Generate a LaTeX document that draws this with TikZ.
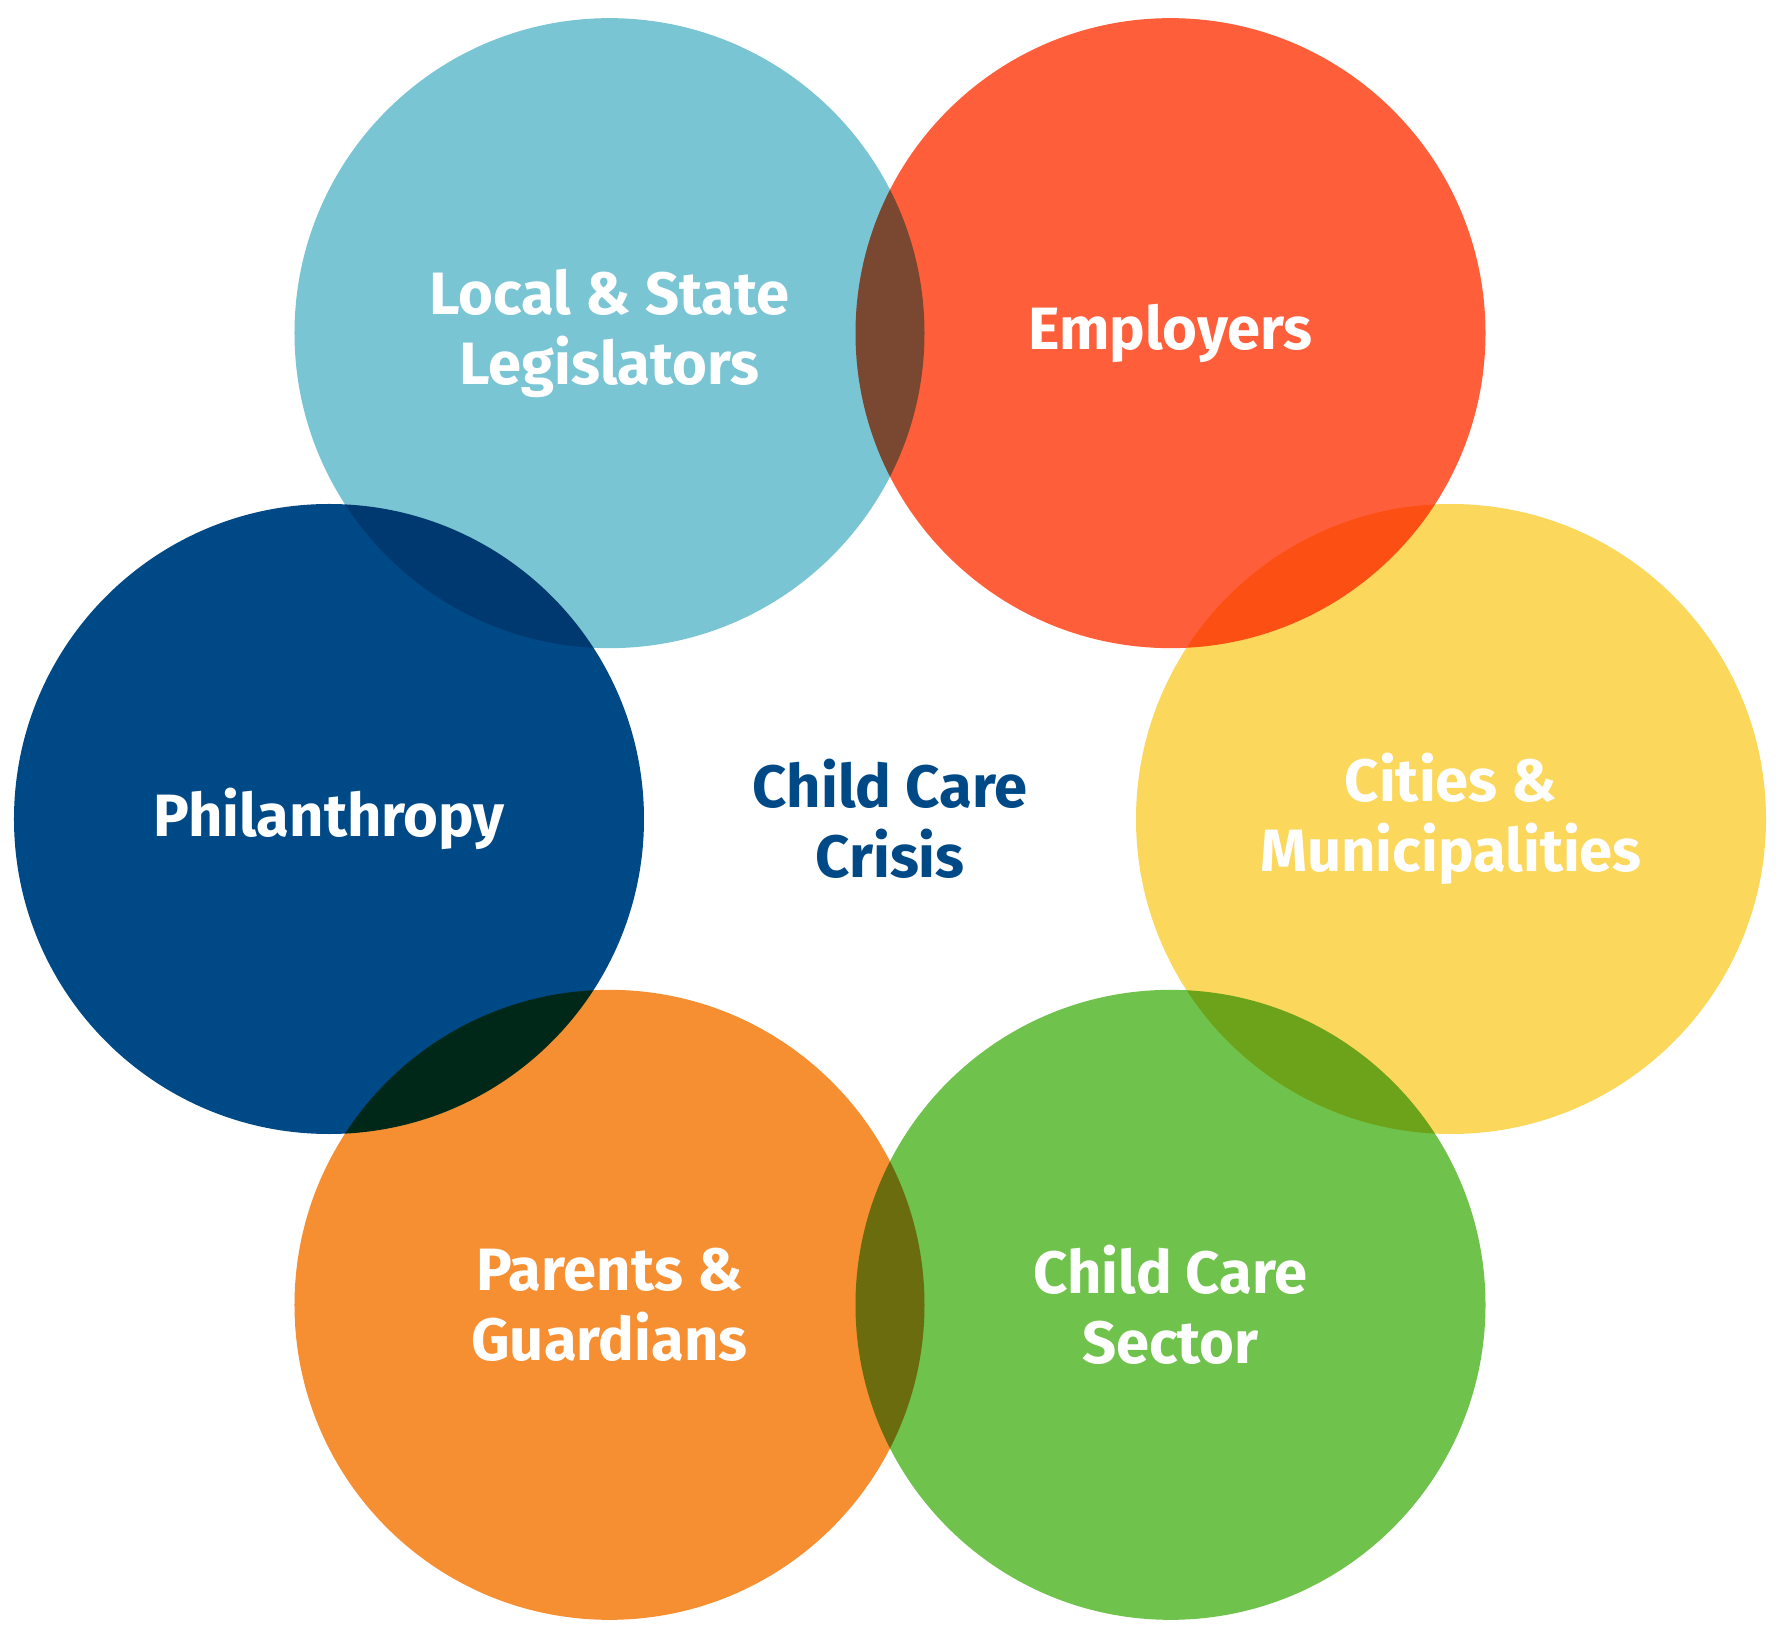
\documentclass[tikz,border=0pt]{standalone}
\usepackage{fontspec}
\setmainfont{Fira Sans}
\usetikzlibrary{positioning}
\definecolor{skyblue}{HTML}{7AC5D4}
\definecolor{coral}{HTML}{FF5E3A}
\definecolor{sunny}{HTML}{FBD75B}
\definecolor{leaf}{HTML}{6FC24B}
\definecolor{tangerine}{HTML}{F58F31}
\definecolor{navy}{HTML}{004987}
\tikzset{
  bubble/.style={circle, inner sep=0pt, minimum size=6.3cm},
  tag/.style={text=white, align=center, font=\fontsize{17pt}{20pt}\selectfont\bfseries},
  hubtag/.style={tag, text=navy}
}

\begin{document}
\begin{tikzpicture}
    \useasboundingbox (-8.90,-8.21) rectangle (8.92,8.19);
    \coordinate (hub) at (0,0);

    % the six circles, multiplied where they overlap
    \begin{scope}[blend group=multiply]
      \node[bubble, fill=skyblue] (legis) at (120:5.61) {};
      \node[bubble, fill=coral] (employ) at (60:5.61) {};
      \node[bubble, fill=sunny] (cities) at (0:5.61) {};
      \node[bubble, fill=leaf] (sector) at (-60:5.61) {};
      \node[bubble, fill=tangerine] (parents) at (-120:5.61) {};
      \node[bubble, fill=navy] (phil) at (180:5.61) {};
    \end{scope}

    \node[tag] (legistag) at (legis) {Local \& State\\Legislators};
    \node[tag] (employtag) at (employ) {Employers};
    \node[tag] (citiestag) at (cities) {Cities \&\\Municipalities};
    \node[tag] (sectortag) at (sector) {Child Care\\Sector};
    \node[tag] (parentstag) at (parents) {Parents \&\\Guardians};
    \node[tag] (philtag) at (phil) {Philanthropy};
    \node[hubtag] (crisis) at (hub) {Child Care\\Crisis};
\end{tikzpicture}
\end{document}
